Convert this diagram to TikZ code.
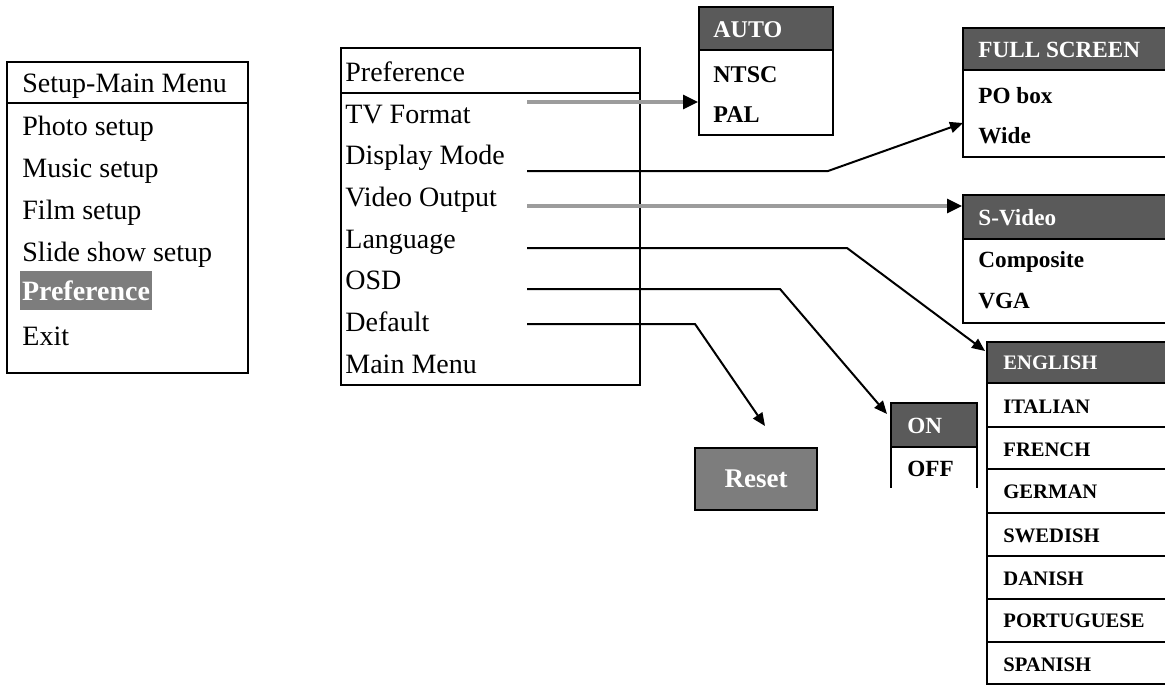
\documentclass[tikz,border=0pt]{standalone}
\usepackage{fontspec}
\setmainfont{Liberation Serif}
\usetikzlibrary{arrows.meta}
\definecolor{hdr}{HTML}{5A5A5A}
\definecolor{hil}{HTML}{7D7D7D}
\definecolor{gline}{HTML}{9C9C9C}
\begin{document}
\begin{tikzpicture}[x=0.5pt,y=-0.5pt,
  frame/.style={draw=black,line width=1pt},
  hdrfill/.style={fill=hdr,draw=black,line width=1pt},
  reg/.style={anchor=base west,inner sep=0pt,font=\fontsize{14}{16}\selectfont},
  bTV/.style={anchor=base west,inner sep=0pt,font=\fontsize{12}{14}\selectfont\bfseries},
  bMid/.style={anchor=base west,inner sep=0pt,font=\fontsize{11.6}{14}\selectfont\bfseries},
  bLang/.style={anchor=base west,inner sep=0pt,font=\fontsize{10.3}{12}\selectfont\bfseries},
  wht/.style={text=white},
  conn/.style={line width=1pt,draw=black,-{Triangle[length=6.5pt,width=5.5pt]}},
  gconn/.style={line width=1.6pt,draw=gline,-{Triangle[length=7.5pt,width=7pt,color=black,fill=black]}}
]
\useasboundingbox (0,0) rectangle (1165,686);

% ---------- Setup-Main Menu ----------
\draw[frame] (7,62) rectangle (248,373);
\draw[frame] (7,103) -- (248,103);
\node[reg] (smm) at (22,92) {Setup-Main Menu};
\node[reg] (photo) at (22,135) {Photo setup};
\node[reg] (music) at (22,177) {Music setup};
\node[reg] (film) at (22,219) {Film setup};
\node[reg] (slide) at (22,261) {Slide show setup};
\node[fill=hil,inner sep=0pt,minimum width=66pt,minimum height=19.5pt,
      font=\fontsize{14}{16}\selectfont\bfseries,text=white] (prefhl) at (86,290.5) {Preference};
\node[reg] (exit) at (22,345) {Exit};

% ---------- Preference menu ----------
\draw[frame] (341,48) rectangle (640,385);
\draw[frame] (341,93) -- (640,93);
\node[reg] (ptitle) at (345,81) {Preference};
\node[reg] (tvf) at (345,123) {TV Format};
\node[reg] (disp) at (345,164.7) {Display Mode};
\node[reg] (vout) at (345,206.4) {Video Output};
\node[reg] (lang) at (345,248) {Language};
\node[reg] (osd) at (345,289.8) {OSD};
\node[reg] (deflt) at (345,331.5) {Default};
\node[reg] (mainm) at (345,373) {Main Menu};

% ---------- TV format box ----------
\draw[hdrfill] (699,7) rectangle (833,50);
\draw[frame] (699,50) rectangle (833,135);
\node[bTV,wht] (auto) at (713,37) {AUTO};
\node[bTV] (ntsc) at (713,82) {NTSC};
\node[bTV] (pal) at (713,122) {PAL};

% ---------- Display mode box ----------
\draw[hdrfill] (963,28) rectangle (1170,70);
\draw[frame] (963,70) rectangle (1170,157);
\node[bMid,wht] (full) at (978,57) {FULL SCREEN};
\node[bMid] (pobox) at (978,103) {PO box};
\node[bMid] (wide) at (978,143) {Wide};

% ---------- Video output box ----------
\draw[hdrfill] (963,195) rectangle (1170,239);
\draw[frame] (963,239) rectangle (1170,323);
\node[bMid,wht] (svid) at (978,225) {S-Video};
\node[bMid] (comp) at (978,267) {Composite};
\node[bMid] (vga) at (978,308) {VGA};

% ---------- Language box ----------
\draw[hdrfill] (987,342) rectangle (1170,383);
\draw[frame] (987,383) rectangle (1170,684);
\foreach \yy in {427,469,513,556,599,642} \draw[frame] (987,\yy) -- (1170,\yy);
\node[bLang,wht] (eng) at (1003,369) {ENGLISH};
\node[bLang] (ita) at (1003,413) {ITALIAN};
\node[bLang] (fre) at (1003,456) {FRENCH};
\node[bLang] (ger) at (1003,498) {GERMAN};
\node[bLang] (swe) at (1003,542) {SWEDISH};
\node[bLang] (dan) at (1003,585) {DANISH};
\node[bLang] (por) at (1003,627) {PORTUGUESE};
\node[bLang] (spa) at (1003,671) {SPANISH};

% ---------- OSD box (open bottom) ----------
\draw[hdrfill] (891,403) rectangle (977,447);
\draw[frame] (891,447) -- (891,488);
\draw[frame] (977,447) -- (977,488);
\node[bMid,wht] (on) at (907,433) {ON};
\node[bMid] (off) at (907,476) {OFF};

% ---------- Reset ----------
\node[fill=hil,draw=black,line width=1pt,inner sep=0pt,minimum width=61pt,minimum height=31pt,
      font=\fontsize{13.5}{16}\selectfont\bfseries,text=white,anchor=north west] (reset) at (694,447) {Reset};

% ---------- connector coordinates ----------
\coordinate (sTV) at (527,102);
\coordinate (eTV) at (698,102);
\coordinate (sDM) at (527,171);
\coordinate (kDM) at (828,171);
\coordinate (eDM) at (963,123);
\coordinate (sVO) at (527,206);
\coordinate (eVO) at (962,206);
\coordinate (sLG) at (527,248);
\coordinate (kLG) at (847,248);
\coordinate (eLG) at (985,351);
\coordinate (sOS) at (527,289);
\coordinate (kOS) at (780,289);
\coordinate (eOS) at (887,414);
\coordinate (sDF) at (527,324);
\coordinate (kDF) at (695,324);
\coordinate (eDF) at (765,426);

\draw[gconn] (sTV) -- (eTV);
\draw[conn] (sDM) -- (kDM) -- (eDM);
\draw[gconn] (sVO) -- (eVO);
\draw[conn] (sLG) -- (kLG) -- (eLG);
\draw[conn] (sOS) -- (kOS) -- (eOS);
\draw[conn] (sDF) -- (kDF) -- (eDF);
\end{tikzpicture}
\end{document}
